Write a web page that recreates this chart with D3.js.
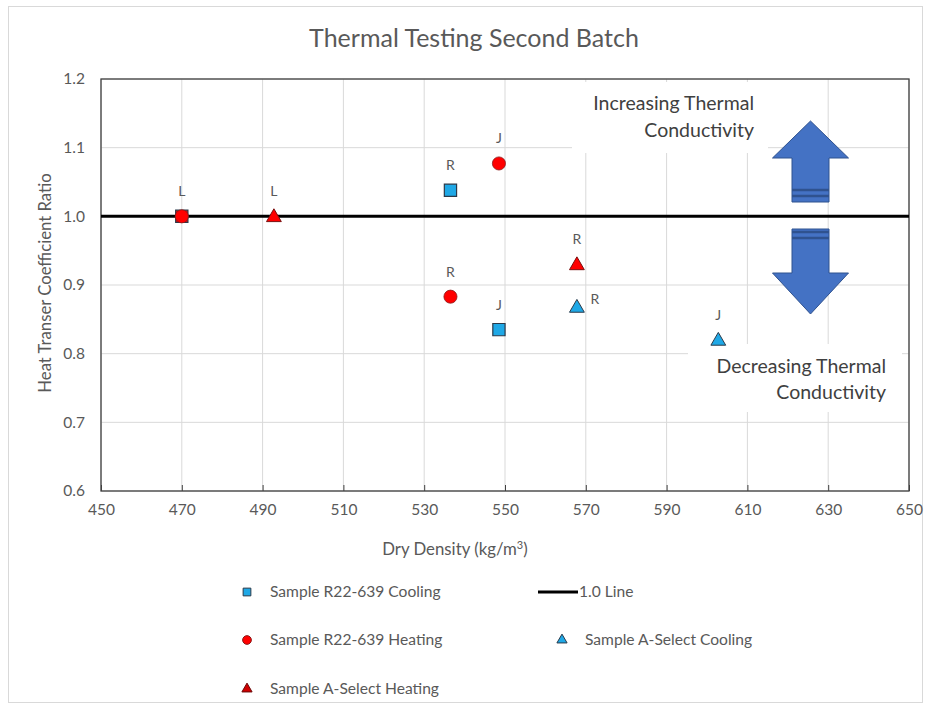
<!DOCTYPE html>
<html>
<head>
<meta charset="utf-8">
<script src="https://cdn.jsdelivr.net/npm/d3@7"></script>
<style>
  html, body { margin: 0; padding: 0; background: #ffffff; }
  svg { display: block; font-family: Lato, "Open Sans", sans-serif; }
</style>
</head>
<body>
<svg id="chart" width="931" height="708"></svg>
<script>
// ---- data ----
const chartTitle = "Thermal Testing Second Batch";
const xTicks = [450, 470, 490, 510, 530, 550, 570, 590, 610, 630, 650];
const yTicks = [0.6, 0.7, 0.8, 0.9, 1.0, 1.1, 1.2];
const referenceRatio = 1.0;

// Sample R22-639 Cooling
const r22CoolingX = [470, 536.5, 548.5];
const r22CoolingY = [1.0, 1.038, 0.835];
const r22CoolingLabels = ["L", "R", "J"];

// Sample R22-639 Heating
const r22HeatingX = [470, 548.5, 536.5];
const r22HeatingY = [1.0, 1.077, 0.883];
const r22HeatingLabels = ["", "J", "R"];

// Sample A-Select Heating
const aHeatingX = [492.8, 567.8];
const aHeatingY = [1.0, 0.93];
const aHeatingLabels = ["L", "R"];

// Sample A-Select Cooling
const aCoolingX = [567.8, 602.8];
const aCoolingY = [0.868, 0.82];
const aCoolingLabels = ["R", "J"];
const aCoolingLabelSide = ["right", "above"];

// ---- layout ----
const svg = d3.select("#chart");
const plot = { left: 101, right: 909, top: 79, bottom: 491 };
const x = d3.scaleLinear().domain([450, 650]).range([plot.left, plot.right]);
const y = d3.scaleLinear().domain([0.6, 1.2]).range([plot.bottom, plot.top]);

const textGrey = "#595959";
const blue = "#1FA8E6";
const red = "#FF0000";
const outline = "#2B3A4A";

// outer chart frame
svg.append("rect")
  .attr("x", 8.5).attr("y", 6.5).attr("width", 914).attr("height", 696)
  .attr("fill", "#fff").attr("stroke", "#d9d9d9");

// title
svg.append("text")
  .attr("x", 474).attr("y", 47)
  .attr("text-anchor", "middle")
  .attr("font-size", 25).attr("fill", textGrey)
  .text(chartTitle);

// gridlines
const grid = svg.append("g");
grid.selectAll("line.vx").data(xTicks).join("line")
  .attr("x1", d => x(d)).attr("x2", d => x(d))
  .attr("y1", plot.top).attr("y2", plot.bottom)
  .attr("stroke", "#d9d9d9").attr("stroke-width", 1);
grid.selectAll("line.hy").data(yTicks).join("line")
  .attr("y1", d => y(d)).attr("y2", d => y(d))
  .attr("x1", plot.left).attr("x2", plot.right)
  .attr("stroke", "#d9d9d9").attr("stroke-width", 1);

// annotation boxes (white, covering gridlines)
svg.append("rect").attr("x", 572).attr("y", 82).attr("width", 196).attr("height", 71).attr("fill", "#fff");
svg.append("rect").attr("x", 688).attr("y", 344).attr("width", 214).attr("height", 68).attr("fill", "#fff");

// axes
const xAxis = d3.axisBottom(x).tickValues(xTicks).tickSize(-6).tickPadding(13).tickFormat(d3.format("d"));
const yAxis = d3.axisLeft(y).tickValues(yTicks).tickSize(0).tickPadding(16).tickFormat(d3.format(".1f"));

const gx = svg.append("g").attr("transform", `translate(0,${plot.bottom})`).call(xAxis);
gx.select(".domain").remove();
gx.selectAll(".tick line").attr("stroke", "#404040");
gx.selectAll(".tick text").attr("fill", textGrey).attr("font-size", 15.5).attr("font-family", "Lato, sans-serif");

const gy = svg.append("g").attr("transform", `translate(${plot.left},0)`).call(yAxis);
gy.select(".domain").remove();
gy.selectAll(".tick text").attr("fill", textGrey).attr("font-size", 15.5).attr("font-family", "Lato, sans-serif");

// plot frame
svg.append("rect")
  .attr("x", plot.left).attr("y", plot.top)
  .attr("width", plot.right - plot.left).attr("height", plot.bottom - plot.top)
  .attr("fill", "none").attr("stroke", "#404040").attr("stroke-width", 1.3);

// axis titles
svg.append("text")
  .attr("x", 455).attr("y", 555).attr("text-anchor", "middle")
  .attr("font-size", 16.8).attr("fill", textGrey)
  .html("Dry Density (kg/m<tspan dy='-6' font-size='11'>3</tspan><tspan dy='6'>)</tspan>");
svg.append("text")
  .attr("transform", `translate(51,${(plot.top + plot.bottom) / 2 - 2}) rotate(-90)`)
  .attr("text-anchor", "middle")
  .attr("font-size", 16.7).attr("fill", textGrey)
  .text("Heat Transer Coefficient Ratio");

// 1.0 reference line
svg.append("line")
  .attr("x1", x(450)).attr("x2", x(650))
  .attr("y1", y(referenceRatio)).attr("y2", y(referenceRatio))
  .attr("stroke", "#000").attr("stroke-width", 3);

// arrows
function arrowPath(cx, tipY, headBaseY, tailY, headHalf, shaftHalf) {
  return `M${cx},${tipY} L${cx + headHalf},${headBaseY} L${cx + shaftHalf},${headBaseY} ` +
         `L${cx + shaftHalf},${tailY} L${cx - shaftHalf},${tailY} L${cx - shaftHalf},${headBaseY} ` +
         `L${cx - headHalf},${headBaseY} Z`;
}
const arrowX = 810.5;
const arrows = svg.append("g");
arrows.append("path").attr("d", arrowPath(arrowX, 121, 158, 202, 38, 18.5))
  .attr("fill", "#4472C4").attr("stroke", "#2F528F").attr("stroke-width", 1);
arrows.append("path").attr("d", arrowPath(arrowX, 314, 273, 229, 38, 18.5))
  .attr("fill", "#4472C4").attr("stroke", "#2F528F").attr("stroke-width", 1);
[190, 196, 232, 238].forEach(yy => {
  arrows.append("line")
    .attr("x1", arrowX - 18.5).attr("x2", arrowX + 18.5)
    .attr("y1", yy).attr("y2", yy)
    .attr("stroke", "#2F528F").attr("stroke-width", 2.5);
});

// annotation text
const annoColor = "#404040";
const inc = svg.append("text").attr("text-anchor", "end").attr("font-size", 19.5).attr("fill", annoColor);
inc.append("tspan").attr("x", 754).attr("y", 110).text("Increasing Thermal");
inc.append("tspan").attr("x", 754).attr("y", 137).text("Conductivity");
const dec = svg.append("text").attr("text-anchor", "end").attr("font-size", 19.5).attr("fill", annoColor);
dec.append("tspan").attr("x", 886).attr("y", 373).text("Decreasing Thermal");
dec.append("tspan").attr("x", 886).attr("y", 399).text("Conductivity");

// marker shapes
const sqSym = d3.symbol().type(d3.symbolSquare).size(150);
const ciSym = d3.symbol().type(d3.symbolCircle).size(135);
const trSym = d3.symbol().type(d3.symbolTriangle).size(95);

function zipSeries(xs, ys, labels, sides) {
  return xs.map((v, i) => ({ x: v, y: ys[i], label: labels[i], side: sides ? sides[i] : "above" }));
}
const r22Cooling = zipSeries(r22CoolingX, r22CoolingY, r22CoolingLabels);
const r22Heating = zipSeries(r22HeatingX, r22HeatingY, r22HeatingLabels);
const aHeating = zipSeries(aHeatingX, aHeatingY, aHeatingLabels);
const aCooling = zipSeries(aCoolingX, aCoolingY, aCoolingLabels, aCoolingLabelSide);

// a cooling square that shares its point with a heating circle is shown in the heating colour
const sharesHeating = d => r22Heating.some(h => h.x === d.x && h.y === d.y);

const marks = svg.append("g");
marks.selectAll("path.sq").data(r22Cooling).join("path")
  .attr("transform", d => `translate(${x(d.x)},${y(d.y)})`)
  .attr("d", sqSym).attr("fill", d => sharesHeating(d) ? red : blue)
  .attr("stroke", outline).attr("stroke-width", 1.2);
marks.selectAll("path.ci").data(r22Heating).join("path")
  .attr("transform", d => `translate(${x(d.x)},${y(d.y)})`)
  .attr("d", ciSym).attr("fill", red)
  .attr("stroke", "#8a1a1a").attr("stroke-width", 0.8);
marks.selectAll("path.th").data(aHeating).join("path")
  .attr("transform", d => `translate(${x(d.x)},${y(d.y) + 1})`)
  .attr("d", trSym).attr("fill", red)
  .attr("stroke", "#7a1010").attr("stroke-width", 1);
marks.selectAll("path.tc").data(aCooling).join("path")
  .attr("transform", d => `translate(${x(d.x)},${y(d.y) + 1})`)
  .attr("d", trSym).attr("fill", blue)
  .attr("stroke", outline).attr("stroke-width", 1);

// point labels
const allPoints = [...r22Cooling, ...r22Heating, ...aHeating, ...aCooling].filter(d => d.label);
svg.append("g").selectAll("text").data(allPoints).join("text")
  .attr("x", d => d.side === "right" ? x(d.x) + 18 : x(d.x))
  .attr("y", d => d.side === "right" ? y(d.y) - 3 : y(d.y) - 20)
  .attr("text-anchor", "middle")
  .attr("font-size", 14).attr("fill", textGrey)
  .text(d => d.label);

// legend
const legend = svg.append("g").attr("font-size", 15.6).attr("fill", textGrey);
const legSq = d3.symbol().type(d3.symbolSquare).size(60);
const legCi = d3.symbol().type(d3.symbolCircle).size(60);
const legTr = d3.symbol().type(d3.symbolTriangle).size(45);
const legendItems = [
  { sym: legSq, fill: blue, stroke: outline, mx: 247, my: 592, text: "Sample R22-639 Cooling" },
  { sym: legCi, fill: red, stroke: "#8a1a1a", mx: 247, my: 640, text: "Sample R22-639 Heating" },
  { sym: legTr, fill: blue, stroke: outline, mx: 562, my: 640, text: "Sample A-Select Cooling" },
  { sym: legTr, fill: "#d00000", stroke: "#6a0a0a", mx: 247, my: 689, text: "Sample A-Select Heating" }
];
legendItems.forEach(it => {
  legend.append("path").attr("transform", `translate(${it.mx},${it.my})`)
    .attr("d", it.sym).attr("fill", it.fill).attr("stroke", it.stroke).attr("stroke-width", 1);
  legend.append("text").attr("x", it.mx + 23).attr("y", it.my + 5).text(it.text);
});
legend.append("line").attr("x1", 538).attr("x2", 578).attr("y1", 592).attr("y2", 592)
  .attr("stroke", "#000").attr("stroke-width", 3);
legend.append("text").attr("x", 579).attr("y", 597).text("1.0 Line");
</script>
</body>
</html>
